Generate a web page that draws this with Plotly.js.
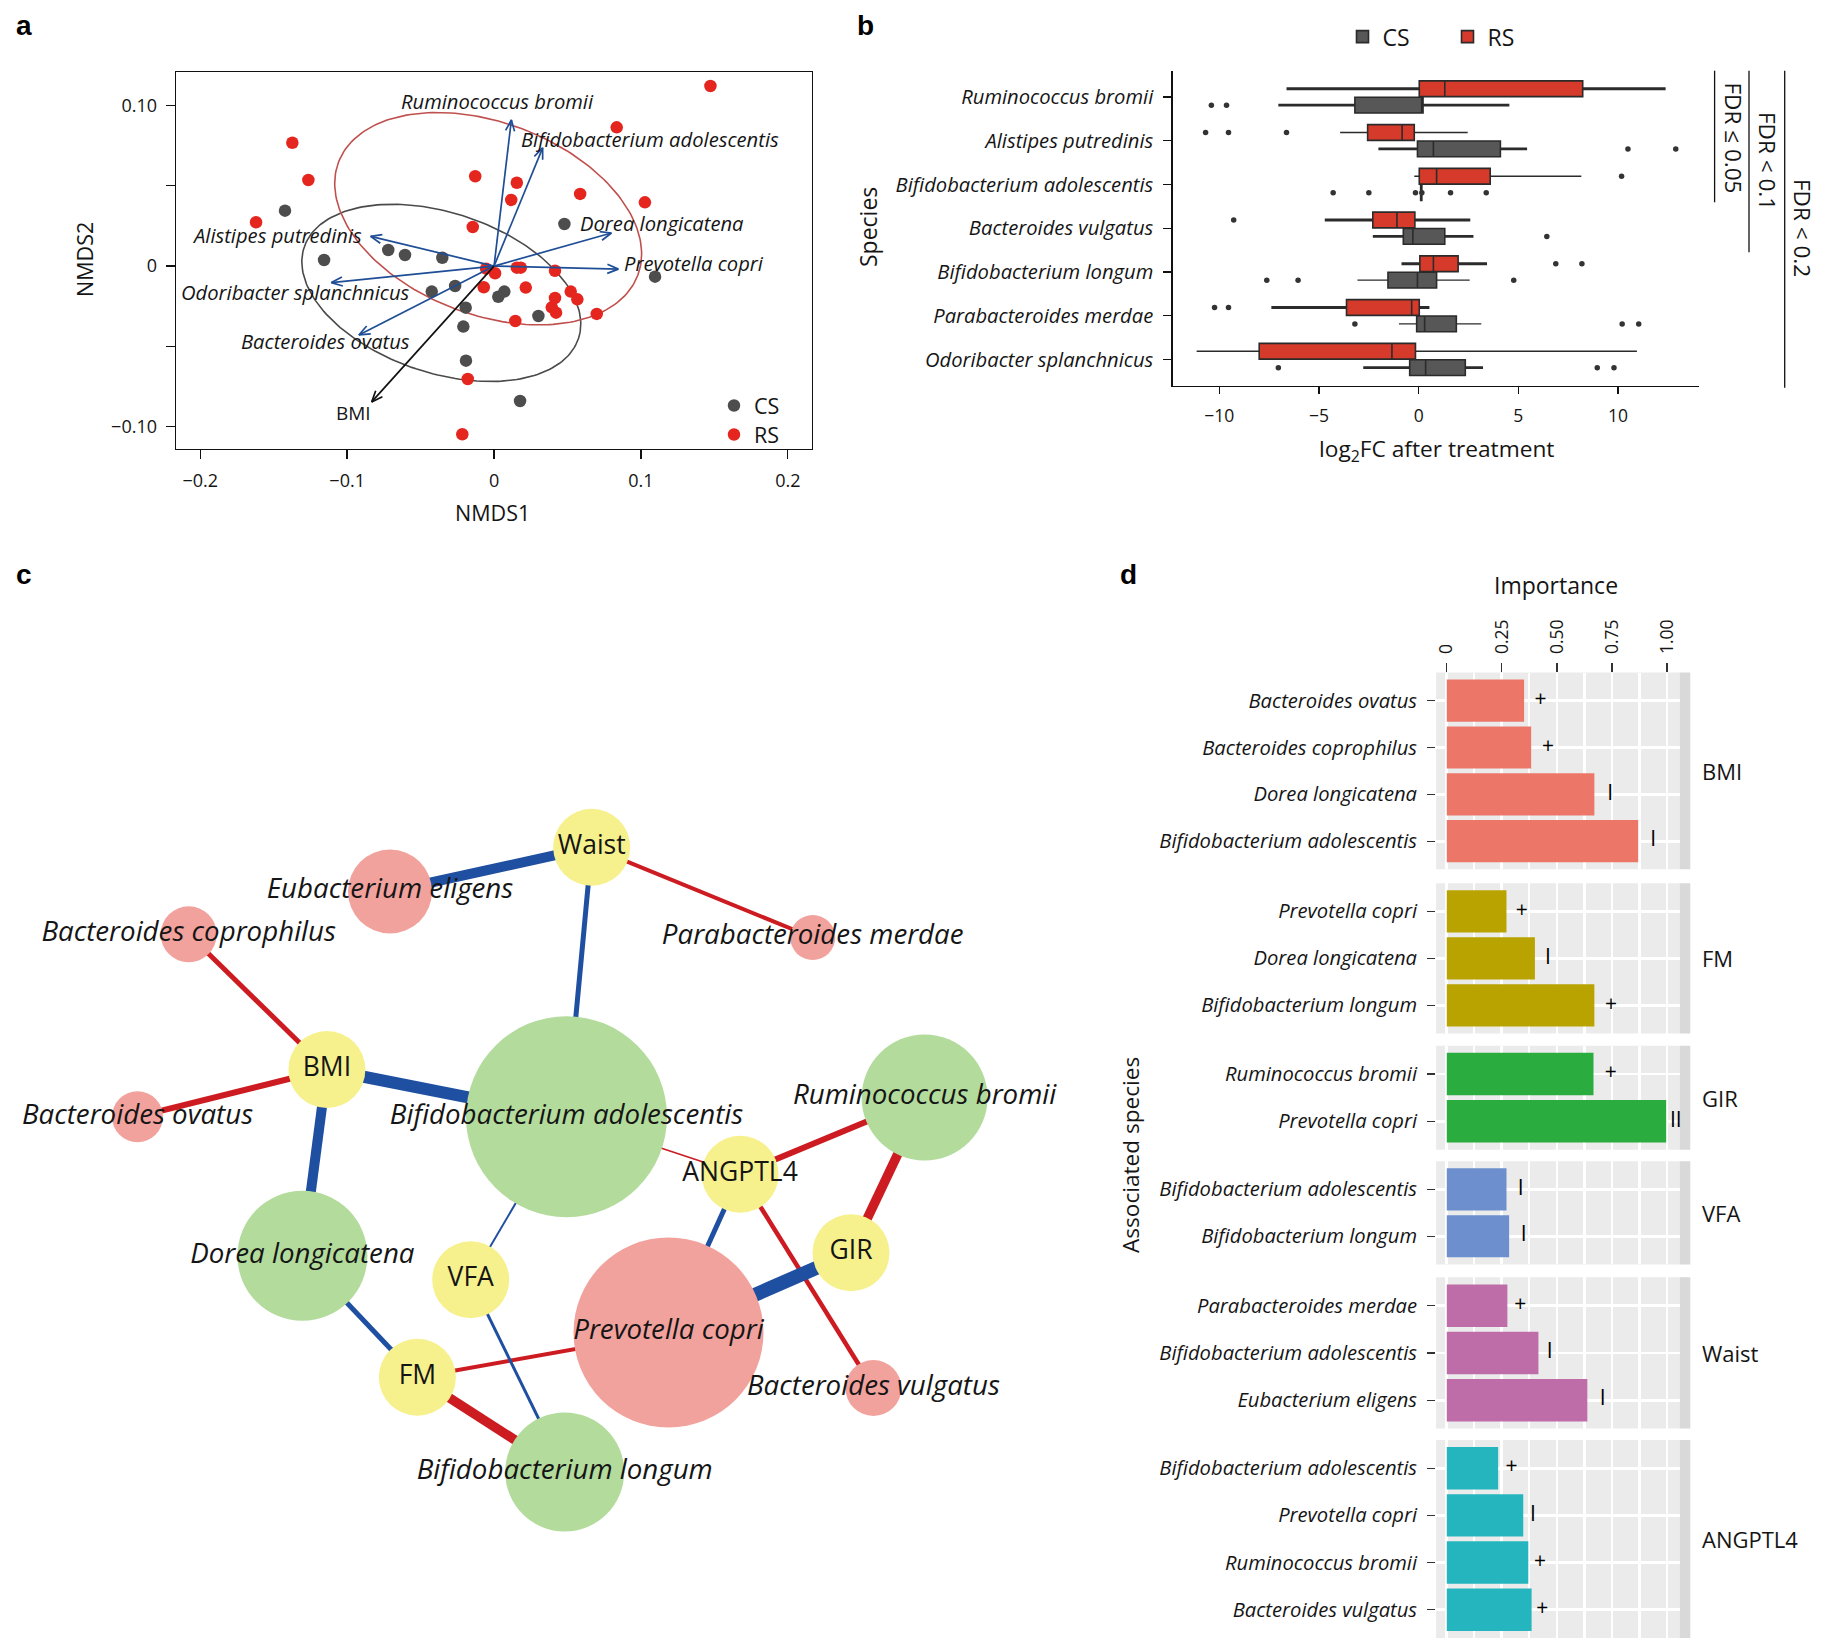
<!DOCTYPE html>
<html><head><meta charset="utf-8">
<script src="https://cdn.plot.ly/plotly-3.0.1.min.js"></script>
<style>html,body{margin:0;padding:0;background:#fff;}#chart{width:1830px;height:1645px;}</style>
</head><body><div id="chart"></div>
<script>
// ================= DATA =================
// ---- panel a : NMDS ordination ----
const csNMDS1 = [0.0479,-0.0720,-0.0606,-0.0352,0.1096,-0.0424,-0.0265,0.0070,0.0029,-0.0193,-0.0209,0.0302,-0.0191,0.0177,-0.1423,-0.1157];
const csNMDS2 = [0.0262,0.0100,0.0069,0.0052,-0.0066,-0.0159,-0.0124,-0.0159,-0.0191,-0.0259,-0.0377,-0.0311,-0.0589,-0.0840,0.0345,0.0038];
const rsNMDS1 = [-0.0128,0.0155,0.0117,0.0586,0.1027,-0.0145,-0.0054,0.0007,0.0155,0.0182,0.0415,-0.0070,0.0216,0.0522,0.0567,0.0415,0.0393,0.0422,0.0699,0.0145,-0.0179,-0.0216,0.1473,0.0835,-0.1373,-0.1264,-0.1620];
const rsNMDS2 = [0.0559,0.0519,0.0412,0.0449,0.0397,0.0243,-0.0016,-0.0045,-0.0010,-0.0010,-0.0029,-0.0132,-0.0134,-0.0159,-0.0207,-0.0199,-0.0257,-0.0290,-0.0298,-0.0342,-0.0703,-0.1047,0.1121,0.0864,0.0768,0.0536,0.0273];
const envfitVariables = ['Ruminococcus bromii','Bifidobacterium adolescentis','Dorea longicatena','Prevotella copri','Alistipes putredinis','Odoribacter splanchnicus','Bacteroides ovatus','BMI'];
const envfitNMDS1 = [0.0118,0.0331,0.0799,0.0846,-0.0840,-0.1107,-0.0920,-0.0833];
const envfitNMDS2 = [0.0910,0.0736,0.0206,-0.0019,0.0185,-0.0103,-0.0429,-0.0846];
const ellipseGroup = ['CS','RS'];
const ellipseCentreNMDS1 = [-0.0359,-0.0040];
const ellipseCentreNMDS2 = [-0.0167,0.0295];
const ellipseSemiMajor = [0.0984,0.1089];   // in NMDS1 units
const ellipseSemiMinor = [0.0545,0.0654];
const ellipseTiltDeg = [18.4,20.7];

// ---- panel b : log2FC boxplots ----
const bSpecies = ['Ruminococcus bromii','Alistipes putredinis','Bifidobacterium adolescentis','Bacteroides vulgatus','Bifidobacterium longum','Parabacteroides merdae','Odoribacter splanchnicus'];
const rsLower  = [-6.63,-3.94,-0.22,-4.71,-0.86,-7.39,-11.14];
const rsQ1     = [0.03,-2.56,0.03,-2.30,0.06,-3.62,-8.00];
const rsMedian = [1.31,-0.83,0.90,-1.09,0.74,-0.35,-1.34];
const rsQ3     = [8.23,-0.22,3.59,-0.19,1.98,0.03,-0.16];
const rsUpper  = [12.39,2.46,8.16,2.59,3.43,0.54,10.95];
const csLower  = [-7.04,-2.02,0.10,-2.30,-3.07,-0.99,-2.78];
const csQ1     = [-3.20,-0.06,0.10,-0.77,-1.54,-0.10,-0.45];
const csMedian = [0.15,0.74,0.13,-0.29,-0.06,0.30,0.35];
const csQ3     = [0.22,4.10,0.16,1.31,0.90,1.89,2.34];
const csUpper  = [4.55,5.44,0.16,2.75,2.56,3.14,3.23];
const rsWhiskerBold = [1,0,0,1,1,1,0];
const csWhiskerBold = [1,1,0,1,0,0,1];
const rsOutlierSpecies = [1,1,1,2,3,4,4,5,5];
const rsOutlierLog2FC  = [-10.69,-9.54,-6.63,10.18,-9.28,6.88,8.19,-10.24,-9.54];
const csOutlierSpecies = [0,0,1,1,2,2,2,2,2,2,3,4,4,4,5,5,5,6,6,6];
const csOutlierLog2FC  = [-10.4,-9.64,10.5,12.9,-4.29,-2.5,-0.16,0.16,1.6,3.39,6.43,-7.62,-6.05,4.77,-3.2,10.21,11.04,-7.04,8.96,9.8];
const fdrLabels = ['FDR ≤ 0.05','FDR &lt; 0.1','FDR &lt; 0.2'];

// ---- panel c : association network ----
const nodeNames = ['Waist','BMI','FM','GIR','VFA','ANGPTL4','Eubacterium eligens','Bacteroides coprophilus','Parabacteroides merdae','Bacteroides ovatus','Bifidobacterium adolescentis','Ruminococcus bromii','Dorea longicatena','Prevotella copri','Bacteroides vulgatus','Bifidobacterium longum'];
const nodeType  = ['clinical','clinical','clinical','clinical','clinical','clinical','decreased','decreased','decreased','decreased','increased','increased','increased','decreased','decreased','increased'];
const nodeX     = [591.7,326.9,417.4,851.0,470.7,740.1,390.0,188.7,812.7,137.5,566.5,924.6,302.4,668.5,873.4,564.7];
const nodeY     = [847.2,1069.5,1377.2,1252.8,1279.8,1174.2,891.5,934.3,937.5,1116.7,1116.7,1097.5,1255.8,1332.5,1388.0,1472.0];
const nodeSize  = [77,77,77,77,77,77,84,56,45,51,201,126,130,190,56,119];
const edgeFrom  = ['Waist','Waist','Waist','BMI','BMI','BMI','BMI','ANGPTL4','VFA','ANGPTL4','GIR','ANGPTL4','ANGPTL4','GIR','FM','FM','FM','VFA'];
const edgeTo    = ['Eubacterium eligens','Parabacteroides merdae','Bifidobacterium adolescentis','Bacteroides coprophilus','Bacteroides ovatus','Bifidobacterium adolescentis','Dorea longicatena','Bifidobacterium adolescentis','Bifidobacterium adolescentis','Ruminococcus bromii','Ruminococcus bromii','Prevotella copri','Bacteroides vulgatus','Prevotella copri','Dorea longicatena','Prevotella copri','Bifidobacterium longum','Bifidobacterium longum'];
const edgeSign  = [-1,1,-1,1,1,-1,-1,1,-1,1,1,-1,1,-1,-1,1,1,-1];
const edgeStrength = [10,4,5,5,6,12,10,1.6,2,6,9.5,5,4.5,14,5,4,9.5,3];

// ---- panel d : importance ----
const facetNames = ['BMI','FM','GIR','VFA','Waist','ANGPTL4'];
const bmiSpecies = ['Bacteroides ovatus','Bacteroides coprophilus','Dorea longicatena','Bifidobacterium adolescentis'];
const bmiImportance = [0.351,0.383,0.670,0.869];
const bmiMark = ['+','+','I','I'];
const bmiMarkAt = [0.425,0.459,0.742,0.937];
const fmSpecies = ['Prevotella copri','Dorea longicatena','Bifidobacterium longum'];
const fmImportance = [0.271,0.400,0.670];
const fmMark = ['+','I','+'];
const fmMarkAt = [0.340,0.459,0.746];
const girSpecies = ['Ruminococcus bromii','Prevotella copri'];
const girImportance = [0.666,0.996];
const girMark = ['+','II'];
const girMarkAt = [0.744,1.040];
const vfaSpecies = ['Bifidobacterium adolescentis','Bifidobacterium longum'];
const vfaImportance = [0.271,0.283];
const vfaMark = ['I','I'];
const vfaMarkAt = [0.336,0.349];
const waistSpecies = ['Parabacteroides merdae','Bifidobacterium adolescentis','Eubacterium eligens'];
const waistImportance = [0.275,0.416,0.638];
const waistMark = ['+','I','I'];
const waistMarkAt = [0.334,0.467,0.708];
const angSpecies = ['Bifidobacterium adolescentis','Prevotella copri','Ruminococcus bromii','Bacteroides vulgatus'];
const angImportance = [0.233,0.347,0.370,0.385];
const angMark = ['+','I','+','+'];
const angMarkAt = [0.294,0.391,0.423,0.433];
const importanceTicks = [0,0.25,0.5,0.75,1];
const importanceTickText = ['0','0.25','0.50','0.75','1.00'];

// ================= STYLE / LAYOUT =================
const W = 1830, H = 1645;
const X = p => p / W, Y = p => 1 - p / H;
const FONT = '"Open Sans", Roboto, sans-serif';
const BOLD = '"Liberation Sans", Arial, sans-serif';
const it = s => '<i>' + s + '</i>';
const TXT = '#151515';
const SPF = 20.2;   // species label font size

const traces = [], annotations = [], shapes = [];

// ---------- panel a ----------
const aDom = {x0:176, x1:811.5, y0:71.9, y1:448.5};
const aXR = [-0.2165, 0.2161], aYR = [-0.1136, 0.1209];
const sxA = (aDom.x1 - aDom.x0) / (aXR[1] - aXR[0]);
const syA = (aDom.y1 - aDom.y0) / (aYR[1] - aYR[0]);
const ellColor = ['#4a4a4a', '#c0504d'];
ellipseGroup.forEach((g, k) => {
  const th = ellipseTiltDeg[k] * Math.PI / 180;
  const aP = ellipseSemiMajor[k] * sxA, bP = ellipseSemiMinor[k] * sxA;
  const ex = [], ey = [];
  for (let j = 0; j <= 200; j++) {
    const t = 2 * Math.PI * j / 200;
    const dx = aP * Math.cos(t) * Math.cos(th) - bP * Math.sin(t) * Math.sin(th);
    const dy = aP * Math.cos(t) * Math.sin(th) + bP * Math.sin(t) * Math.cos(th);
    ex.push(ellipseCentreNMDS1[k] + dx / sxA);
    ey.push(ellipseCentreNMDS2[k] - dy / syA);
  }
  traces.push({type:'scatter', mode:'lines', x:ex, y:ey, xaxis:'x', yaxis:'y', line:{color:ellColor[k], width:1.6}, showlegend:false, hoverinfo:'skip'});
});
traces.push({type:'scatter', mode:'markers', name:'CS', x:csNMDS1, y:csNMDS2, xaxis:'x', yaxis:'y', legend:'legend', marker:{color:'#4d4d4d', size:12.5}, hoverinfo:'skip'});
traces.push({type:'scatter', mode:'markers', name:'RS', x:rsNMDS1, y:rsNMDS2, xaxis:'x', yaxis:'y', legend:'legend3', marker:{color:'#e4261f', size:12.5}, hoverinfo:'skip'});

// envfit arrows: shaft from origin to tip, open V head computed in screen space
const HEAD_LEN = 11, HEAD_HALF = 4.5;
['blue', 'black'].forEach(kind => {
  const ax = [], ay = [];
  envfitVariables.forEach((v, i) => {
    if ((v === 'BMI') !== (kind === 'black')) return;
    const tx = envfitNMDS1[i], ty = envfitNMDS2[i];
    const px = tx * sxA, py = ty * syA, len = Math.hypot(px, py);
    const ux = px / len, uy = py / len, nx = -uy, ny = ux;
    const bx = -HEAD_LEN * ux, by = -HEAD_LEN * uy;
    ax.push(0, tx, null, tx + (bx + HEAD_HALF * nx) / sxA, tx, tx + (bx - HEAD_HALF * nx) / sxA, null);
    ay.push(0, ty, null, ty + (by + HEAD_HALF * ny) / syA, ty, ty + (by - HEAD_HALF * ny) / syA, null);
  });
  traces.push({type:'scatter', mode:'lines', x:ax, y:ay, xaxis:'x', yaxis:'y', connectgaps:false,
    line:{color:kind === 'black' ? '#111' : '#1f4e96', width:1.7}, showlegend:false, hoverinfo:'skip'});
});
const envLabelStyle = [
  {xanchor:'center', dx:-14, dy:19}, {xanchor:'left', dx:-24, dy:9}, {xanchor:'left', dx:-33, dy:10},
  {xanchor:'left', dx:4, dy:6}, {xanchor:'right', dx:-7, dy:1}, {xanchor:'center', dx:-36, dy:-9},
  {xanchor:'center', dx:-33, dy:-6}, {xanchor:'center', dx:-18, dy:-11}];
envfitVariables.forEach((v, i) => {
  const isBMI = v === 'BMI', s = envLabelStyle[i];
  annotations.push({xref:'x', yref:'y', x:envfitNMDS1[i], y:envfitNMDS2[i], xanchor:s.xanchor, yanchor:'middle',
    xshift:s.dx, yshift:s.dy, showarrow:false, text:isBMI ? v : it(v), font:{size:isBMI ? 19 : SPF, color:TXT}});
});

// ---------- panel b ----------
const BOX_OFF = 0.1875;
const posCS = bSpecies.map((s, i) => i + 1 + BOX_OFF);
const posRS = bSpecies.map((s, i) => i + 1 - BOX_OFF);
function whiskers(pos, lo, q1, q3, hi, boldFlags) {
  [1, 0].forEach(bold => {
    const wx = [], wy = [];
    pos.forEach((p, i) => {
      if (boldFlags[i] !== bold) return;
      wx.push(lo[i], q1[i], null, q3[i], hi[i], null);
      wy.push(p, p, null, p, p, null);
    });
    traces.push({type:'scatter', mode:'lines', x:wx, y:wy, xaxis:'x2', yaxis:'y2', connectgaps:false,
      line:{color:'#2b2b2b', width:bold ? 2.8 : 1.3}, showlegend:false, hoverinfo:'skip'});
  });
}
whiskers(posCS, csLower, csQ1, csQ3, csUpper, csWhiskerBold);
whiskers(posRS, rsLower, rsQ1, rsQ3, rsUpper, rsWhiskerBold);
traces.push({type:'box', orientation:'h', name:'CS', legend:'legend2', xaxis:'x2', yaxis:'y2', y:posCS,
  q1:csQ1, median:csMedian, q3:csQ3, lowerfence:csQ1, upperfence:csQ3, width:0.36,
  fillcolor:'#575757', line:{color:'#2b2b2b', width:1.6}, whiskerwidth:0, boxpoints:false, hoverinfo:'skip'});
traces.push({type:'box', orientation:'h', name:'RS', legend:'legend2', xaxis:'x2', yaxis:'y2', y:posRS,
  q1:rsQ1, median:rsMedian, q3:rsQ3, lowerfence:rsQ1, upperfence:rsQ3, width:0.36,
  fillcolor:'#d63a2a', line:{color:'#2b2b2b', width:1.6}, whiskerwidth:0, boxpoints:false, hoverinfo:'skip'});
traces.push({type:'scatter', mode:'markers', x:csOutlierLog2FC, y:csOutlierSpecies.map(i => i + 1 + BOX_OFF), xaxis:'x2', yaxis:'y2', marker:{color:'#333', size:5.5}, showlegend:false, hoverinfo:'skip'});
traces.push({type:'scatter', mode:'markers', x:rsOutlierLog2FC, y:rsOutlierSpecies.map(i => i + 1 - BOX_OFF), xaxis:'x2', yaxis:'y2', marker:{color:'#333', size:5.5}, showlegend:false, hoverinfo:'skip'});

const fdrGeom = [{x:1714.6, y1:202.3, tx:1733, ty:137.5}, {x:1749, y1:252.3, tx:1768, ty:161}, {x:1784.7, y1:387.7, tx:1803, ty:228}];
fdrLabels.forEach((l, i) => {
  const g = fdrGeom[i];
  shapes.push({type:'line', xref:'paper', yref:'paper', x0:X(g.x), x1:X(g.x), y0:Y(70.7), y1:Y(g.y1), line:{color:'#111', width:1.3}});
  annotations.push({xref:'paper', yref:'paper', x:X(g.tx), y:Y(g.ty), xanchor:'center', yanchor:'middle', text:l, textangle:90,
    showarrow:false, font:{size:22.5, color:TXT}});
});

// ---------- panel c ----------
const RED = '#cd1b22', BLUE = '#1f4fa0';
const nodeColor = {clinical:'#f6f18c', increased:'#b3db9c', decreased:'#f2a29d'};
edgeFrom.forEach((f, i) => {
  const a = nodeNames.indexOf(f), b = nodeNames.indexOf(edgeTo[i]);
  traces.push({type:'scatter', mode:'lines', x:[nodeX[a], nodeX[b]], y:[nodeY[a], nodeY[b]], xaxis:'x3', yaxis:'y3',
    line:{color:edgeSign[i] > 0 ? RED : BLUE, width:edgeStrength[i]}, showlegend:false, hoverinfo:'skip'});
});
traces.push({type:'scatter', mode:'markers', x:nodeX, y:nodeY, xaxis:'x3', yaxis:'y3',
  marker:{size:nodeSize, color:nodeType.map(t => nodeColor[t]), line:{width:0}, opacity:1}, showlegend:false, hoverinfo:'skip'});
traces.push({type:'scatter', mode:'text', x:nodeX, y:nodeY, xaxis:'x3', yaxis:'y3', cliponaxis:false,
  text:nodeNames.map((n, i) => nodeType[i] === 'clinical' ? n : it(n)), textposition:'middle center',
  textfont:{size:nodeType.map(t => t === 'clinical' ? 26.5 : 27.7), color:TXT, family:FONT}, showlegend:false, hoverinfo:'skip'});

// ---------- panel d ----------
const facetSpecies = [bmiSpecies, fmSpecies, girSpecies, vfaSpecies, waistSpecies, angSpecies];
const facetValues = [bmiImportance, fmImportance, girImportance, vfaImportance, waistImportance, angImportance];
const facetMarks = [bmiMark, fmMark, girMark, vfaMark, waistMark, angMark];
const facetMarkAt = [bmiMarkAt, fmMarkAt, girMarkAt, vfaMarkAt, waistMarkAt, angMarkAt];
const facetColor = ['#ec7769', '#b9a300', '#2bac3f', '#6d8fce', '#bf6da9', '#25b5be'];
const facetPx = [[672.5,869.3],[883.2,1033.6],[1045.7,1149.7],[1161.2,1264.4],[1277.3,1428.5],[1439.9,1638]];
const dX0 = 1436.1, dX1 = 1679.6, stripX1 = 1690.3;

const layout = {
  width:W, height:H, margin:{l:0, r:0, t:0, b:0, autoexpand:false},
  paper_bgcolor:'#fff', plot_bgcolor:'#fff', hovermode:false,
  font:{family:FONT, color:TXT, size:18},
  xaxis:{domain:[X(aDom.x0), X(aDom.x1)], range:aXR, anchor:'y', tickvals:[-0.2,-0.1,0,0.1,0.2],
    ticks:'outside', ticklen:9, tickwidth:1.3, tickcolor:'#111', showline:true, mirror:true, linecolor:'#111', linewidth:1.4,
    showgrid:false, zeroline:false, tickfont:{size:18}, ticklabelstandoff:6},
  yaxis:{domain:[Y(aDom.y1), Y(aDom.y0)], range:aYR, anchor:'x', tickvals:[-0.1,0,0.1], ticktext:['−0.10','0','0.10'],
    ticks:'outside', ticklen:9, tickwidth:1.3, tickcolor:'#111', showline:true, mirror:true, linecolor:'#111', linewidth:1.4,
    minor:{tickvals:[-0.05,0.05], ticks:'outside', ticklen:9, tickwidth:1.3, tickcolor:'#111', showgrid:false},
    showgrid:false, zeroline:false, tickfont:{size:18}, ticklabelstandoff:5},
  xaxis2:{domain:[X(1172.5), X(1699.3)], range:[-12.35,14.08], anchor:'y2', tickvals:[-10,-5,0,5,10],
    ticks:'outside', ticklen:7, tickwidth:1.2, tickcolor:'#111', showline:true, linecolor:'#111', linewidth:1.2,
    showgrid:false, zeroline:false, tickfont:{size:17.5}, ticklabelstandoff:7},
  yaxis2:{domain:[Y(385.7), Y(70.7)], range:[7.6,0.4], anchor:'x2', tickvals:bSpecies.map((s, i) => i + 1), ticktext:bSpecies.map(it),
    ticks:'outside', ticklen:8, tickwidth:1.2, tickcolor:'#111', showline:true, linecolor:'#111', linewidth:1.2,
    showgrid:false, zeroline:false, tickfont:{size:SPF}, ticklabelstandoff:6},
  xaxis3:{domain:[0, X(1100)], range:[0,1100], anchor:'y3', visible:false},
  yaxis3:{domain:[0, Y(780)], range:[1645,780], anchor:'x3', visible:false},
  xaxis4:{domain:[X(dX0), X(dX1)], range:[-0.0486,1.057], anchor:'y4', side:'top',
    tickvals:importanceTicks, ticktext:importanceTickText, tickangle:-90,
    ticks:'outside', ticklen:9, tickwidth:1.2, tickcolor:'#333', showline:false, zeroline:false,
    showgrid:true, gridcolor:'#ffffff', gridwidth:2.8,
    minor:{tickvals:[0.125,0.375,0.625,0.875], showgrid:true, gridcolor:'#ffffff', gridwidth:2.2, ticks:''},
    tickfont:{size:17.5}, ticklabelstandoff:5},
  legend:{x:X(714), y:Y(405.5), xanchor:'left', yanchor:'middle', bgcolor:'rgba(0,0,0,0)', font:{size:21.5}},
  legend3:{x:X(714), y:Y(434.5), xanchor:'left', yanchor:'middle', bgcolor:'rgba(0,0,0,0)', font:{size:21.5}},
  legend2:{orientation:'h', x:X(1342.5), y:Y(36.7), xanchor:'left', yanchor:'middle', entrywidth:60, bgcolor:'rgba(0,0,0,0)', font:{size:23}},
  annotations:annotations, shapes:shapes
};

facetNames.forEach((f, k) => {
  const id = 4 + k, sp = facetSpecies[k], n = sp.length;
  const top = facetPx[k][0], bot = facetPx[k][1];
  layout['yaxis' + id] = {domain:[Y(bot), Y(top)], type:'category', categoryorder:'array', categoryarray:sp,
    range:[n - 0.4, -0.6], anchor:'x4', tickvals:sp, ticktext:sp.map(it),
    ticks:'outside', ticklen:8, tickwidth:1.2, tickcolor:'#333', showline:false, zeroline:false,
    showgrid:true, gridcolor:'#ffffff', gridwidth:2.8, tickfont:{size:SPF}, ticklabelstandoff:6};
  shapes.push({type:'rect', xref:'x4 domain', yref:'y' + id + ' domain', x0:0, x1:1, y0:0, y1:1, fillcolor:'#ebebeb', line:{width:0}, layer:'below'});
  shapes.push({type:'rect', xref:'paper', yref:'y' + id + ' domain', x0:X(dX1), x1:X(stripX1), y0:0, y1:1, fillcolor:'#d9d9d9', line:{width:0}, layer:'below'});
  traces.push({type:'bar', orientation:'h', x:facetValues[k], y:sp, xaxis:'x4', yaxis:'y' + id, width:0.9,
    marker:{color:facetColor[k], line:{width:0}}, showlegend:false, hoverinfo:'skip'});
  traces.push({type:'scatter', mode:'text', x:facetMarkAt[k], y:sp, text:facetMarks[k], xaxis:'x4', yaxis:'y' + id,
    cliponaxis:false, textposition:'middle center', textfont:{size:21, color:'#000'}, showlegend:false, hoverinfo:'skip'});
  annotations.push({xref:'paper', yref:'y' + id + ' domain', x:X(1700), y:0.5, xanchor:'left', yanchor:'middle',
    text:f, showarrow:false, font:{size:22, color:TXT}});
});

// axis titles
const axisTitles = [
  {t:'NMDS1', x:492.5, y:513, a:0, s:21.5}, {t:'NMDS2', x:84, y:260, a:-90, s:21.5},
  {t:'Species', x:868, y:227, a:-90, s:23}, {t:'log<sub>2</sub>FC after treatment', x:1436, y:450, a:0, s:22.7},
  {t:'Importance', x:1556, y:585, a:0, s:23}, {t:'Associated species', x:1130, y:1155, a:-90, s:22.6}];
axisTitles.forEach(o => annotations.push({xref:'paper', yref:'paper', x:X(o.x), y:Y(o.y), text:o.t, textangle:o.a,
  showarrow:false, xanchor:'center', yanchor:'middle', font:{size:o.s, color:TXT}}));

// panel letters
[['a',14,26],['b',855,26],['c',14,574],['d',1118,574]].forEach(p => annotations.push({xref:'paper', yref:'paper',
  x:X(p[1]), y:Y(p[2]), xanchor:'left', yanchor:'middle', text:'<b>' + p[0] + '</b>', showarrow:false,
  font:{family:BOLD, size:28, color:'#000'}}));

Plotly.newPlot('chart', traces, layout, {staticPlot:true, displayModeBar:false});
</script></body></html>
